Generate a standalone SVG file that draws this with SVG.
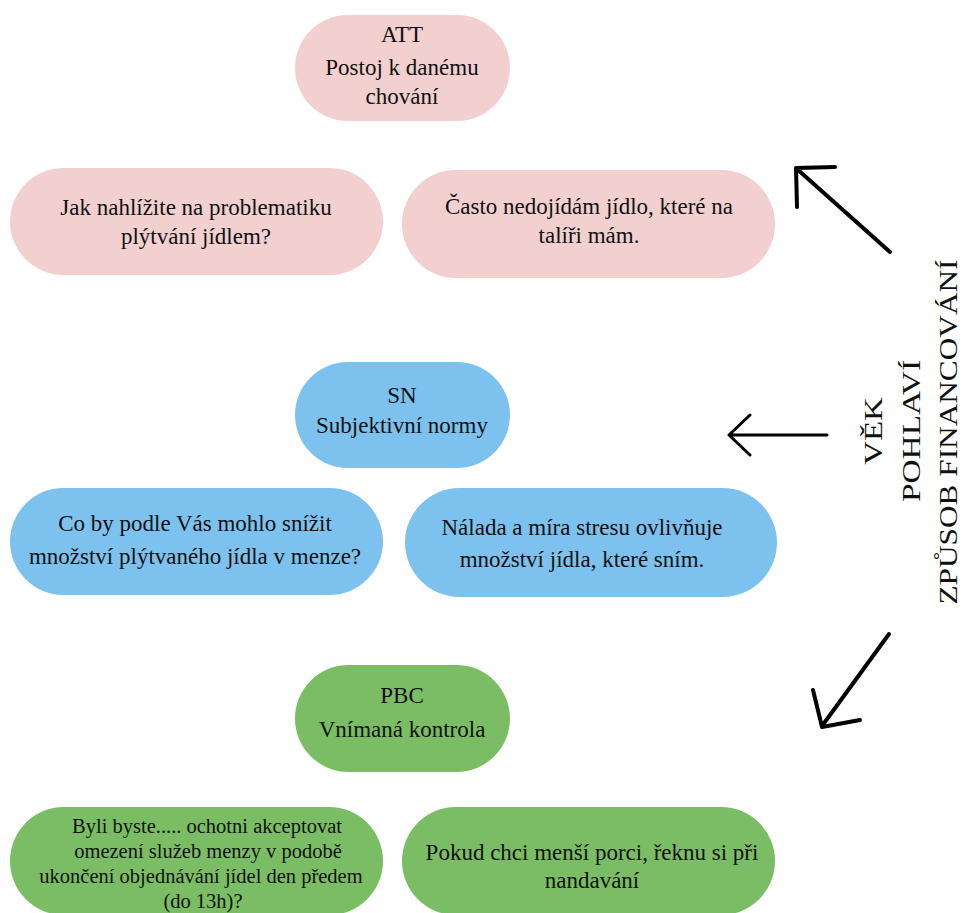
<svg xmlns="http://www.w3.org/2000/svg" width="963" height="913" viewBox="0 0 963 913">
<style>
.att{fill:#f1d0cf}
.sn{fill:#7dc1ee}
.pbc{fill:#7bbd64}
text{font-family:'Liberation Serif','DejaVu Serif',serif;fill:#111;text-anchor:middle}
.t{font-size:23px}
.s{font-size:20.5px}
.v{font-size:26px}
.arr{fill:none;stroke:#000;stroke-linecap:round;stroke-linejoin:round}
</style>
<rect width="963" height="913" fill="#fff"/>
<g font-family="Liberation Serif, DejaVu Serif, serif">
<g id="att">
<rect class="att" x="295" y="15" width="215" height="106" rx="53"/>
<text class="t" x="402" y="42">ATT</text>
<text class="t" x="402" y="75">Postoj k danému</text>
<text class="t" x="402" y="104">chování</text>
</g>
<g id="att-q1">
<rect class="att" x="10" y="168" width="373" height="107" rx="53.5"/>
<text class="t" x="196" y="215">Jak nahlížite na problematiku</text>
<text class="t" x="196" y="244">plýtvání jídlem?</text>
</g>
<g id="att-q2">
<rect class="att" x="402" y="170" width="373" height="108" rx="54"/>
<text class="t" x="589" y="214">Často nedojídám jídlo, které na</text>
<text class="t" x="589" y="243">talíři mám.</text>
</g>
<g id="sn">
<rect class="sn" x="295" y="362" width="215" height="106" rx="53"/>
<text class="t" x="402" y="403">SN</text>
<text class="t" x="402" y="433">Subjektivní normy</text>
</g>
<g id="sn-q1">
<rect class="sn" x="10" y="488" width="373" height="107" rx="53.5"/>
<text class="t" x="195" y="531">Co by podle Vás mohlo snížit</text>
<text class="t" x="195" y="564">množství plýtvaného jídla v menze?</text>
</g>
<g id="sn-q2">
<rect class="sn" x="405" y="488" width="372" height="109" rx="54.5"/>
<text class="t" x="582" y="535">Nálada a míra stresu ovlivňuje</text>
<text class="t" x="582" y="567">množství jídla, které sním.</text>
</g>
<g id="pbc">
<rect class="pbc" x="295" y="665" width="215" height="107" rx="53.5"/>
<text class="t" x="402" y="703">PBC</text>
<text class="t" x="402" y="737">Vnímaná kontrola</text>
</g>
<g id="pbc-q1">
<rect class="pbc" x="10" y="807" width="373" height="108" rx="54"/>
<text class="s" x="207" y="833">Byli byste..... ochotni akceptovat</text>
<text class="s" x="208" y="858">omezení služeb menzy v podobě</text>
<text class="s" x="201" y="883">ukončení objednávání jídel den předem</text>
<text class="s" x="203" y="908">(do 13h)?</text>
</g>
<g id="pbc-q2">
<rect class="pbc" x="402" y="807" width="373" height="108" rx="54"/>
<text class="t" x="592" y="860">Pokud chci menší porci, řeknu si při</text>
<text class="t" x="592" y="888">nandavání</text>
</g>
<g id="factors">
<text class="v" transform="translate(882,431) rotate(-90)" textLength="68" lengthAdjust="spacingAndGlyphs">VĚK</text>
<text class="v" transform="translate(920,431) rotate(-90)" textLength="142" lengthAdjust="spacingAndGlyphs">POHLAVÍ</text>
<text class="v" transform="translate(957,432) rotate(-90)" textLength="345" lengthAdjust="spacingAndGlyphs">ZPŮSOB FINANCOVÁNÍ</text>
</g>
</g>
<g id="connectors">
<path class="arr" stroke-width="4" d="M890,252 L797,169 M797,207 L796,168 L835,167"/>
<path class="arr" stroke-width="3" d="M827,435 L729,435 M750,415 L729,435 L750,455"/>
<path class="arr" stroke-width="4" d="M889,634 L822,726 M813,690 L822,727 L860,720"/>
</g>
</svg>
